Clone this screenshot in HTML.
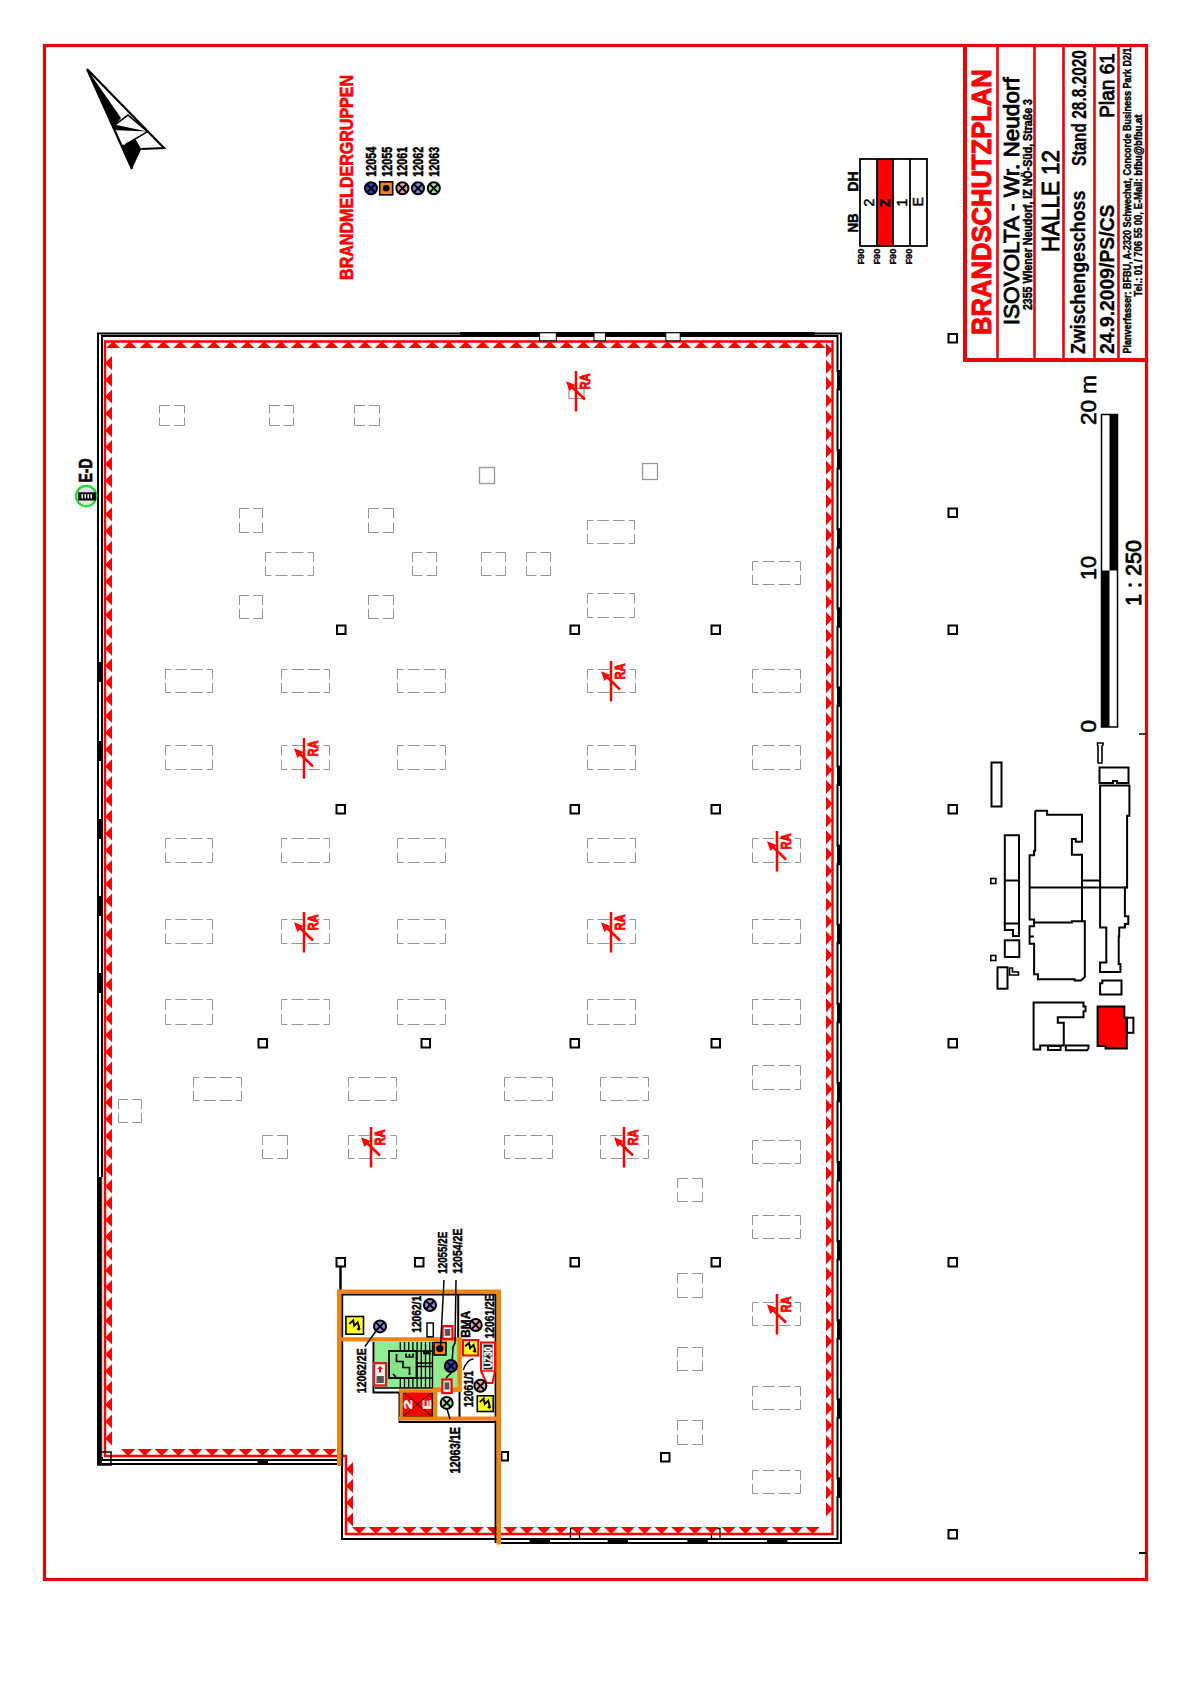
<!DOCTYPE html>
<html><head><meta charset="utf-8"><title>Brandschutzplan</title>
<style>html,body{margin:0;padding:0;background:#fff;}svg{display:block;font-family:"Liberation Sans",sans-serif;}</style>
</head><body>
<svg width="1191" height="1684" viewBox="0 0 1191 1684">
<rect x="44.5" y="45.5" width="1102" height="1534" fill="none" stroke="#e20808" stroke-width="3.2"/>
<line x1="1139" y1="1553" x2="1147" y2="1553" stroke="#000" stroke-width="2"/>
<line x1="1139" y1="734" x2="1147" y2="734" stroke="#000" stroke-width="1.5"/>
<g fill="none" stroke="#e20808">
<line x1="965" y1="45" x2="965" y2="362" stroke-width="4"/>
<line x1="963" y1="360" x2="1148" y2="360" stroke-width="4"/>
<line x1="997.5" y1="45" x2="997.5" y2="360" stroke-width="2.6"/>
<line x1="1034.5" y1="45" x2="1034.5" y2="360" stroke-width="2.6"/>
<line x1="1063.5" y1="45" x2="1063.5" y2="360" stroke-width="2.6"/>
<line x1="1094.5" y1="45" x2="1094.5" y2="360" stroke-width="2.6"/>
<line x1="1118.5" y1="45" x2="1118.5" y2="360" stroke-width="2.6"/>
</g>
<text transform="translate(990.5,335.0) rotate(-90)" font-size="28.21" font-weight="bold" fill="#ff0000" stroke="#ff0000" stroke-width="0.99" textLength="265.8" lengthAdjust="spacingAndGlyphs">BRANDSCHUTZPLAN</text>
<text transform="translate(1019.2,325.3) rotate(-90)" font-size="22.91" font-weight="normal" fill="#000" stroke="#000" stroke-width="0.90" textLength="248.0" lengthAdjust="spacingAndGlyphs">ISOVOLTA - Wr. Neudorf</text>
<text transform="translate(1032.2,310.1) rotate(-90)" font-size="12.01" font-weight="bold" fill="#000" stroke="#000" stroke-width="0.50" textLength="211.1" lengthAdjust="spacingAndGlyphs">2355 Wiener Neudorf, IZ NÖ-Süd, Straße 3</text>
<text transform="translate(1059.0,252.1) rotate(-90)" font-size="23.46" font-weight="normal" fill="#000" stroke="#000" stroke-width="0.90" textLength="102.1" lengthAdjust="spacingAndGlyphs">HALLE 12</text>
<text transform="translate(1084.8,353.9) rotate(-90)" font-size="19.97" font-weight="bold" fill="#000" stroke="#000" stroke-width="0.30" textLength="163.3" lengthAdjust="spacingAndGlyphs">Zwischengeschoss</text>
<text transform="translate(1085.5,165.9) rotate(-90)" font-size="20.25" font-weight="bold" fill="#000" stroke="#000" stroke-width="0.30" textLength="115.8" lengthAdjust="spacingAndGlyphs">Stand 28.8.2020</text>
<text transform="translate(1114.1,353.9) rotate(-90)" font-size="20.95" font-weight="bold" fill="#000" stroke="#000" stroke-width="0.30" textLength="149.3" lengthAdjust="spacingAndGlyphs">24.9.2009/PS/CS</text>
<text transform="translate(1114.1,117.7) rotate(-90)" font-size="20.95" font-weight="normal" fill="#000" stroke="#000" stroke-width="0.90" textLength="64.5" lengthAdjust="spacingAndGlyphs">Plan 61</text>
<text transform="translate(1131.0,353.5) rotate(-90)" font-size="10.61" font-weight="bold" fill="#000" stroke="#000" stroke-width="0.45" textLength="306.0" lengthAdjust="spacingAndGlyphs">Planverfasser: BFBU, A-2320 Schwechat, Concorde Business Park D2/1</text>
<text transform="translate(1141.6,296.5) rotate(-90)" font-size="10.61" font-weight="bold" fill="#000" stroke="#000" stroke-width="0.45" textLength="182.0" lengthAdjust="spacingAndGlyphs">Tel.: 01 / 706 55 00, E-Mail: bfbu@bfbu.at</text>
<path d="M87,69 L121,118 L115.3,124.7 L112.1,124.7 Z M112.3,125 L115.3,124.7 L147.2,131.6 L117.5,130.2 L114,129.5 Z M121.1,144.8 L125.3,144.8 L135.4,139.3 L141.3,149 L132,169 Z" fill="#000"/>
<path d="M87,69 L164,148 L141.3,149 M87,69 L132,169" fill="none" stroke="#000" stroke-width="2.2"/>
<path d="M115.3,124.7 L127.9,115 L147.2,131.4 M125.3,144.8 L148,131.4" fill="none" stroke="#000" stroke-width="1.6"/>
<text transform="translate(353.2,279.9) rotate(-90)" font-size="18.16" font-weight="bold" fill="#ff0000" stroke="#ff0000" stroke-width="0.64" textLength="205.0" lengthAdjust="spacingAndGlyphs">BRANDMELDERGRUPPEN</text>
<text transform="translate(375.7,176.7) rotate(-90)" font-size="14.66" font-weight="bold" fill="#000" stroke="#000" stroke-width="0.51" textLength="29.9" lengthAdjust="spacingAndGlyphs">12054</text>
<text transform="translate(391.5,176.7) rotate(-90)" font-size="14.66" font-weight="bold" fill="#000" stroke="#000" stroke-width="0.51" textLength="29.9" lengthAdjust="spacingAndGlyphs">12055</text>
<text transform="translate(407.2,176.7) rotate(-90)" font-size="14.66" font-weight="bold" fill="#000" stroke="#000" stroke-width="0.51" textLength="29.9" lengthAdjust="spacingAndGlyphs">12061</text>
<text transform="translate(423.0,176.7) rotate(-90)" font-size="14.66" font-weight="bold" fill="#000" stroke="#000" stroke-width="0.51" textLength="29.9" lengthAdjust="spacingAndGlyphs">12062</text>
<text transform="translate(438.5,176.7) rotate(-90)" font-size="14.66" font-weight="bold" fill="#000" stroke="#000" stroke-width="0.51" textLength="29.9" lengthAdjust="spacingAndGlyphs">12063</text>
<circle cx="371" cy="188.3" r="6.0" fill="#2848c8" stroke="#000" stroke-width="2.0"/>
<path d="M366.7,184.0 L375.3,192.6 M366.7,192.6 L375.3,184.0" stroke="#000" stroke-width="2"/>
<rect x="379.7" y="181.8" width="13" height="13" fill="#ee8412" stroke="#000" stroke-width="1.6"/><circle cx="386.2" cy="188.3" r="3.3" fill="#000"/>
<circle cx="402.4" cy="188.3" r="6.0" fill="#e8a0b0" stroke="#000" stroke-width="2.0"/>
<path d="M398.1,184.0 L406.7,192.6 M398.1,192.6 L406.7,184.0" stroke="#000" stroke-width="2"/>
<circle cx="418" cy="188.3" r="6.0" fill="#8888e8" stroke="#000" stroke-width="2.0"/>
<path d="M413.7,184.0 L422.3,192.6 M413.7,192.6 L422.3,184.0" stroke="#000" stroke-width="2"/>
<circle cx="433.8" cy="188.3" r="6.0" fill="#a0e8a0" stroke="#000" stroke-width="2.0"/>
<path d="M429.5,184.0 L438.1,192.6 M429.5,192.6 L438.1,184.0" stroke="#000" stroke-width="2"/>
<rect x="877" y="159" width="16" height="87" fill="#ff0000"/>
<rect x="860" y="159" width="67" height="87" fill="none" stroke="#000" stroke-width="1.8"/>
<line x1="877" y1="159" x2="877" y2="246" stroke="#000" stroke-width="1.8"/>
<line x1="893" y1="159" x2="893" y2="246" stroke="#000" stroke-width="1.8"/>
<line x1="910" y1="159" x2="910" y2="246" stroke="#000" stroke-width="1.8"/>
<text transform="translate(874,202.5) rotate(-90)" font-size="14" font-weight="normal" text-anchor="middle" stroke="#000" stroke-width="0.5">2</text>
<text transform="translate(890.4,202.9) rotate(-90)" font-size="14" font-weight="bold" text-anchor="middle" stroke="#000" stroke-width="0.5">Z</text>
<text transform="translate(907.2,202.7) rotate(-90)" font-size="14" font-weight="normal" text-anchor="middle" stroke="#000" stroke-width="0.5">1</text>
<text transform="translate(923.1,201.9) rotate(-90)" font-size="14" font-weight="normal" text-anchor="middle" stroke="#000" stroke-width="0.5">E</text>
<text transform="translate(858.0,191.8) rotate(-90)" font-size="14.66" font-weight="bold" fill="#000" stroke="#000" stroke-width="0.51" textLength="20.6" lengthAdjust="spacingAndGlyphs">DH</text>
<text transform="translate(858.0,232.6) rotate(-90)" font-size="14.66" font-weight="bold" fill="#000" stroke="#000" stroke-width="0.51" textLength="19.4" lengthAdjust="spacingAndGlyphs">NB</text>
<text transform="translate(864.2,264.6) rotate(-90)" font-size="9.08" font-weight="bold" fill="#000" stroke="#000" stroke-width="0.32" textLength="16.0" lengthAdjust="spacingAndGlyphs">F90</text>
<text transform="translate(880.2,264.6) rotate(-90)" font-size="9.08" font-weight="bold" fill="#000" stroke="#000" stroke-width="0.32" textLength="16.0" lengthAdjust="spacingAndGlyphs">F90</text>
<text transform="translate(896.2,264.6) rotate(-90)" font-size="9.08" font-weight="bold" fill="#000" stroke="#000" stroke-width="0.32" textLength="16.0" lengthAdjust="spacingAndGlyphs">F90</text>
<text transform="translate(912.2,264.6) rotate(-90)" font-size="9.08" font-weight="bold" fill="#000" stroke="#000" stroke-width="0.32" textLength="16.0" lengthAdjust="spacingAndGlyphs">F90</text>
<rect x="1101.5" y="414.5" width="16" height="312.5" fill="#fff" stroke="#000" stroke-width="1.5"/>
<rect x="1109.5" y="414.5" width="8" height="156" fill="#000"/>
<rect x="1101.5" y="570.5" width="8" height="156.5" fill="#000"/>
<text transform="translate(1095.9,425.0) rotate(-90)" font-size="22.07" font-weight="normal" fill="#000" stroke="#000" stroke-width="0.60" textLength="50.1" lengthAdjust="spacingAndGlyphs">20 m</text>
<text transform="translate(1095.9,580.0) rotate(-90)" font-size="22.07" font-weight="normal" fill="#000" stroke="#000" stroke-width="0.60" textLength="24.2" lengthAdjust="spacingAndGlyphs">10</text>
<text transform="translate(1095.9,732.7) rotate(-90)" font-size="22.07" font-weight="normal" fill="#000" stroke="#000" stroke-width="0.50" textLength="12.8" lengthAdjust="spacingAndGlyphs">0</text>
<text transform="translate(1140.5,606.1) rotate(-90)" font-size="22.49" font-weight="normal" fill="#000" stroke="#000" stroke-width="0.90" textLength="66.1" lengthAdjust="spacingAndGlyphs">1 : 250</text>
<g fill="none" stroke="#000" stroke-width="2">
<path d="M1097.5,743 L1103,743 L1103,745 L1102,746 L1102,763 L1098,763 L1098,746 L1097.5,745 Z" stroke-width="1.6"/>
<path d="M1099.5,767.5 L1128.5,767.5 L1128.5,783 L1117,783 L1117,781 L1113,781 L1113,783 L1099.5,783 Z"/>
<path d="M1100.1,785.5 H1129.4 V815.8 H1127.1 V887.4 H1124.9 V916.2 H1128.3 V924 H1124.9 V927.4 H1119.2 V936.5 H1118.7 V964.1 H1120.4 V972 H1100.1 V962.4 H1106.3 V927.4 H1100.1 Z"/>
<path d="M1102.3,980.4 H1121.5 V994.5 H1100.1 V983.3 H1102.3 Z"/>
<path d="M1029.6,887.4 H1127.1 M1082,880.6 H1100.1"/>
<path d="M1035.2,810.7 H1047.1 V814.7 H1082 V841.7 H1075.8 V838.9 H1071.9 V854.7 H1082 V921.2 M1035.2,810.7 V850.7 H1034.1 V855.3 H1029.6 V919.5 H1034.1 V922.4"/>
<path d="M1034.1,922.4 H1071.9 V921.2 H1084.8 V977.1 L1080.9,980.4 H1074.7 V979.3 H1038 V974.2 H1034.1 V943.8 H1029.6 V926.3 H1034.1 Z M1030,936.5 H1034"/>
<path d="M1004.8,835.3 L1019,835.3 L1019,936 L1013,936 L1013,930 L1004.8,930 Z M1004.8,880.5 L1019,880.5 M1004.8,923.5 L1019,923.5"/>
<rect x="991.5" y="762.5" width="10" height="44"/>
<rect x="990.8" y="878.5" width="5" height="5" stroke-width="1.6"/>
<rect x="990.8" y="955.5" width="5" height="5" stroke-width="1.6"/>
<rect x="1004.8" y="940.3" width="14.5" height="16.7"/>
<rect x="997.5" y="967.3" width="10" height="21.4"/>
<path d="M1009.5,968 L1012.5,968 L1012.5,972 L1018.5,972 L1018.5,975 L1009.5,975 Z" stroke-width="1.6"/>
<path d="M1033.6,1002.6 H1083.5 V1006.6 H1085.5 V1011.2 H1083.5 V1017.2 H1057.8 V1022.7 H1063.8 V1045.4 H1040.2 V1049.4 H1033.6 Z"/>
<path d="M1065.8,1045.4 H1088.5 V1048.5 L1087,1050.3 H1065.8 Z M1048,1046 H1060.6 V1050 H1048 Z"/>
<path d="M1097.6,1006.6 H1124.3 V1017.7 H1126.8 V1048.4 H1105.6 V1045.9 H1097.6 Z" fill="#ff0000"/>
<rect x="1126.8" y="1017.7" width="6.6" height="15.1"/>
</g>
<g fill="none" stroke="#000" stroke-width="2">
<path d="M341,1464 L98,1464 L98,333.5 L841,333.5 L841,1543 L498,1543"/>
<path d="M341,1460 L102,1460 L102,336 L837.5,336 L837.5,1539 L341,1539 M342,1539 L342,1452"/>
</g>
<g fill="none" stroke="#ff0000" stroke-width="2.4">
<path d="M105,1456 L105,341.5 L832.5,341.5 L832.5,1534 L346,1534 L346,1456 Z"/>
</g>
<rect x="837" y="370.0" width="5" height="20.5" fill="#000"/><rect x="834.5" y="372.0" width="2.5" height="16.5" fill="#fff"/><rect x="837" y="449.1" width="5" height="20.5" fill="#000"/><rect x="834.5" y="451.1" width="2.5" height="16.5" fill="#fff"/><rect x="837" y="528.2" width="5" height="20.5" fill="#000"/><rect x="834.5" y="530.2" width="2.5" height="16.5" fill="#fff"/><rect x="837" y="607.3" width="5" height="20.5" fill="#000"/><rect x="834.5" y="609.3" width="2.5" height="16.5" fill="#fff"/><rect x="837" y="686.4" width="5" height="20.5" fill="#000"/><rect x="834.5" y="688.4" width="2.5" height="16.5" fill="#fff"/><rect x="837" y="765.5" width="5" height="20.5" fill="#000"/><rect x="834.5" y="767.5" width="2.5" height="16.5" fill="#fff"/><rect x="837" y="844.6" width="5" height="20.5" fill="#000"/><rect x="834.5" y="846.6" width="2.5" height="16.5" fill="#fff"/><rect x="837" y="923.7" width="5" height="20.5" fill="#000"/><rect x="834.5" y="925.7" width="2.5" height="16.5" fill="#fff"/><rect x="837" y="1002.8" width="5" height="20.5" fill="#000"/><rect x="834.5" y="1004.8" width="2.5" height="16.5" fill="#fff"/><rect x="837" y="1081.9" width="5" height="20.5" fill="#000"/><rect x="834.5" y="1083.9" width="2.5" height="16.5" fill="#fff"/><rect x="837" y="1161.0" width="5" height="20.5" fill="#000"/><rect x="834.5" y="1163.0" width="2.5" height="16.5" fill="#fff"/><rect x="837" y="1240.1" width="5" height="20.5" fill="#000"/><rect x="834.5" y="1242.1" width="2.5" height="16.5" fill="#fff"/><rect x="837" y="1319.2" width="5" height="20.5" fill="#000"/><rect x="834.5" y="1321.2" width="2.5" height="16.5" fill="#fff"/><rect x="837" y="1398.3" width="5" height="20.5" fill="#000"/><rect x="834.5" y="1400.3" width="2.5" height="16.5" fill="#fff"/><rect x="837" y="1477.4" width="5" height="20.5" fill="#000"/><rect x="834.5" y="1479.4" width="2.5" height="16.5" fill="#fff"/><rect x="97" y="662" width="6" height="20" fill="#000"/><rect x="97" y="741" width="6" height="20" fill="#000"/><rect x="97" y="819" width="6" height="20" fill="#000"/><rect x="97" y="896" width="6" height="20" fill="#000"/><rect x="97" y="973" width="6" height="20" fill="#000"/><rect x="529.5" y="1538" width="20.5" height="6" fill="#000"/><rect x="607.6" y="1538" width="20.5" height="6" fill="#000"/><rect x="687.4" y="1538" width="20.5" height="6" fill="#000"/><rect x="767" y="1538" width="20.5" height="6" fill="#000"/><rect x="257.5" y="1459" width="10.5" height="6" fill="#000"/><path d="M570.5,1538 V1528.5 H579.5 V1538 M711.5,1538 V1528.5 H720 V1538" fill="none" stroke="#000" stroke-width="1.3"/><rect x="460" y="332" width="355" height="3.5" fill="#000"/><rect x="539.6" y="332.8" width="16.7" height="8" fill="#fff" stroke="#000" stroke-width="1"/><rect x="594" y="332.8" width="11.4" height="8" fill="#fff" stroke="#000" stroke-width="1"/><rect x="665.8" y="332.8" width="14.4" height="8" fill="#fff" stroke="#000" stroke-width="1"/><rect x="97.8" y="1177" width="4" height="288" fill="#000"/><rect x="101.8" y="1177" width="1" height="280" fill="#fff"/><rect x="98" y="1452" width="13" height="13" fill="none" stroke="#000" stroke-width="1.5"/>
<path d="M106.0,348 L120.2,348 L113.1,341.5Z M122.8,348 L137.0,348 L129.9,341.5Z M139.6,348 L153.8,348 L146.7,341.5Z M156.4,348 L170.6,348 L163.5,341.5Z M173.2,348 L187.4,348 L180.3,341.5Z M190.0,348 L204.2,348 L197.1,341.5Z M206.8,348 L221.0,348 L213.9,341.5Z M223.6,348 L237.8,348 L230.7,341.5Z M240.4,348 L254.6,348 L247.5,341.5Z M257.2,348 L271.4,348 L264.3,341.5Z M274.0,348 L288.2,348 L281.1,341.5Z M290.8,348 L305.0,348 L297.9,341.5Z M307.6,348 L321.8,348 L314.7,341.5Z M324.4,348 L338.6,348 L331.5,341.5Z M341.2,348 L355.4,348 L348.3,341.5Z M358.0,348 L372.2,348 L365.1,341.5Z M374.8,348 L389.0,348 L381.9,341.5Z M391.6,348 L405.8,348 L398.7,341.5Z M408.4,348 L422.6,348 L415.5,341.5Z M425.2,348 L439.4,348 L432.3,341.5Z M442.0,348 L456.2,348 L449.1,341.5Z M458.8,348 L473.0,348 L465.9,341.5Z M475.6,348 L489.8,348 L482.7,341.5Z M492.4,348 L506.6,348 L499.5,341.5Z M509.2,348 L523.4,348 L516.3,341.5Z M526.0,348 L540.2,348 L533.1,341.5Z M542.8,348 L557.0,348 L549.9,341.5Z M559.6,348 L573.8,348 L566.7,341.5Z M576.4,348 L590.6,348 L583.5,341.5Z M593.2,348 L607.4,348 L600.3,341.5Z M610.0,348 L624.2,348 L617.1,341.5Z M626.8,348 L641.0,348 L633.9,341.5Z M643.6,348 L657.8,348 L650.7,341.5Z M660.4,348 L674.6,348 L667.5,341.5Z M677.2,348 L691.4,348 L684.3,341.5Z M694.0,348 L708.2,348 L701.1,341.5Z M710.8,348 L725.0,348 L717.9,341.5Z M727.6,348 L741.8,348 L734.7,341.5Z M744.4,348 L758.6,348 L751.5,341.5Z M761.2,348 L775.4,348 L768.3,341.5Z M778.0,348 L792.2,348 L785.1,341.5Z M794.8,348 L809.0,348 L801.9,341.5Z M811.6,348 L825.8,348 L818.7,341.5Z M112,356.0 L112,370.2 L105,363.1Z M112,372.8 L112,387.0 L105,379.9Z M112,389.6 L112,403.8 L105,396.7Z M112,406.4 L112,420.6 L105,413.5Z M112,423.2 L112,437.4 L105,430.3Z M112,440.0 L112,454.2 L105,447.1Z M112,456.8 L112,471.0 L105,463.9Z M112,473.6 L112,487.8 L105,480.7Z M112,490.4 L112,504.6 L105,497.5Z M112,507.2 L112,521.4 L105,514.3Z M112,524.0 L112,538.2 L105,531.1Z M112,540.8 L112,555.0 L105,547.9Z M112,557.6 L112,571.8 L105,564.7Z M112,574.4 L112,588.6 L105,581.5Z M112,591.2 L112,605.4 L105,598.3Z M112,608.0 L112,622.2 L105,615.1Z M112,624.8 L112,639.0 L105,631.9Z M112,641.6 L112,655.8 L105,648.7Z M112,658.4 L112,672.6 L105,665.5Z M112,675.2 L112,689.4 L105,682.3Z M112,692.0 L112,706.2 L105,699.1Z M112,708.8 L112,723.0 L105,715.9Z M112,725.6 L112,739.8 L105,732.7Z M112,742.4 L112,756.6 L105,749.5Z M112,759.2 L112,773.4 L105,766.3Z M112,776.0 L112,790.2 L105,783.1Z M112,792.8 L112,807.0 L105,799.9Z M112,809.6 L112,823.8 L105,816.7Z M112,826.4 L112,840.6 L105,833.5Z M112,843.2 L112,857.4 L105,850.3Z M112,860.0 L112,874.2 L105,867.1Z M112,876.8 L112,891.0 L105,883.9Z M112,893.6 L112,907.8 L105,900.7Z M112,910.4 L112,924.6 L105,917.5Z M112,927.2 L112,941.4 L105,934.3Z M112,944.0 L112,958.2 L105,951.1Z M112,960.8 L112,975.0 L105,967.9Z M112,977.6 L112,991.8 L105,984.7Z M112,994.4 L112,1008.6 L105,1001.5Z M112,1011.2 L112,1025.4 L105,1018.3Z M112,1028.0 L112,1042.2 L105,1035.1Z M112,1044.8 L112,1059.0 L105,1051.9Z M112,1061.6 L112,1075.8 L105,1068.7Z M112,1078.4 L112,1092.6 L105,1085.5Z M112,1095.2 L112,1109.4 L105,1102.3Z M112,1112.0 L112,1126.2 L105,1119.1Z M112,1128.8 L112,1143.0 L105,1135.9Z M112,1145.6 L112,1159.8 L105,1152.7Z M112,1162.4 L112,1176.6 L105,1169.5Z M112,1179.2 L112,1193.4 L105,1186.3Z M112,1196.0 L112,1210.2 L105,1203.1Z M112,1212.8 L112,1227.0 L105,1219.9Z M112,1229.6 L112,1243.8 L105,1236.7Z M112,1246.4 L112,1260.6 L105,1253.5Z M112,1263.2 L112,1277.4 L105,1270.3Z M112,1280.0 L112,1294.2 L105,1287.1Z M112,1296.8 L112,1311.0 L105,1303.9Z M112,1313.6 L112,1327.8 L105,1320.7Z M112,1330.4 L112,1344.6 L105,1337.5Z M112,1347.2 L112,1361.4 L105,1354.3Z M112,1364.0 L112,1378.2 L105,1371.1Z M112,1380.8 L112,1395.0 L105,1387.9Z M112,1397.6 L112,1411.8 L105,1404.7Z M112,1414.4 L112,1428.6 L105,1421.5Z M112,1431.2 L112,1445.4 L105,1438.3Z M826,343.0 L826,357.2 L832.5,350.1Z M826,359.8 L826,374.0 L832.5,366.9Z M826,376.6 L826,390.8 L832.5,383.7Z M826,393.4 L826,407.6 L832.5,400.5Z M826,410.2 L826,424.4 L832.5,417.3Z M826,427.0 L826,441.2 L832.5,434.1Z M826,443.8 L826,458.0 L832.5,450.9Z M826,460.6 L826,474.8 L832.5,467.7Z M826,477.4 L826,491.6 L832.5,484.5Z M826,494.2 L826,508.4 L832.5,501.3Z M826,511.0 L826,525.2 L832.5,518.1Z M826,527.8 L826,542.0 L832.5,534.9Z M826,544.6 L826,558.8 L832.5,551.7Z M826,561.4 L826,575.6 L832.5,568.5Z M826,578.2 L826,592.4 L832.5,585.3Z M826,595.0 L826,609.2 L832.5,602.1Z M826,611.8 L826,626.0 L832.5,618.9Z M826,628.6 L826,642.8 L832.5,635.7Z M826,645.4 L826,659.6 L832.5,652.5Z M826,662.2 L826,676.4 L832.5,669.3Z M826,679.0 L826,693.2 L832.5,686.1Z M826,695.8 L826,710.0 L832.5,702.9Z M826,712.6 L826,726.8 L832.5,719.7Z M826,729.4 L826,743.6 L832.5,736.5Z M826,746.2 L826,760.4 L832.5,753.3Z M826,763.0 L826,777.2 L832.5,770.1Z M826,779.8 L826,794.0 L832.5,786.9Z M826,796.6 L826,810.8 L832.5,803.7Z M826,813.4 L826,827.6 L832.5,820.5Z M826,830.2 L826,844.4 L832.5,837.3Z M826,847.0 L826,861.2 L832.5,854.1Z M826,863.8 L826,878.0 L832.5,870.9Z M826,880.6 L826,894.8 L832.5,887.7Z M826,897.4 L826,911.6 L832.5,904.5Z M826,914.2 L826,928.4 L832.5,921.3Z M826,931.0 L826,945.2 L832.5,938.1Z M826,947.8 L826,962.0 L832.5,954.9Z M826,964.6 L826,978.8 L832.5,971.7Z M826,981.4 L826,995.6 L832.5,988.5Z M826,998.2 L826,1012.4 L832.5,1005.3Z M826,1015.0 L826,1029.2 L832.5,1022.1Z M826,1031.8 L826,1046.0 L832.5,1038.9Z M826,1048.6 L826,1062.8 L832.5,1055.7Z M826,1065.4 L826,1079.6 L832.5,1072.5Z M826,1082.2 L826,1096.4 L832.5,1089.3Z M826,1099.0 L826,1113.2 L832.5,1106.1Z M826,1115.8 L826,1130.0 L832.5,1122.9Z M826,1132.6 L826,1146.8 L832.5,1139.7Z M826,1149.4 L826,1163.6 L832.5,1156.5Z M826,1166.2 L826,1180.4 L832.5,1173.3Z M826,1183.0 L826,1197.2 L832.5,1190.1Z M826,1199.8 L826,1214.0 L832.5,1206.9Z M826,1216.6 L826,1230.8 L832.5,1223.7Z M826,1233.4 L826,1247.6 L832.5,1240.5Z M826,1250.2 L826,1264.4 L832.5,1257.3Z M826,1267.0 L826,1281.2 L832.5,1274.1Z M826,1283.8 L826,1298.0 L832.5,1290.9Z M826,1300.6 L826,1314.8 L832.5,1307.7Z M826,1317.4 L826,1331.6 L832.5,1324.5Z M826,1334.2 L826,1348.4 L832.5,1341.3Z M826,1351.0 L826,1365.2 L832.5,1358.1Z M826,1367.8 L826,1382.0 L832.5,1374.9Z M826,1384.6 L826,1398.8 L832.5,1391.7Z M826,1401.4 L826,1415.6 L832.5,1408.5Z M826,1418.2 L826,1432.4 L832.5,1425.3Z M826,1435.0 L826,1449.2 L832.5,1442.1Z M826,1451.8 L826,1466.0 L832.5,1458.9Z M826,1468.6 L826,1482.8 L832.5,1475.7Z M826,1485.4 L826,1499.6 L832.5,1492.5Z M826,1502.2 L826,1516.4 L832.5,1509.3Z M121.0,1449 L135.2,1449 L128.1,1456Z M137.8,1449 L152.0,1449 L144.9,1456Z M154.6,1449 L168.8,1449 L161.7,1456Z M171.4,1449 L185.6,1449 L178.5,1456Z M188.2,1449 L202.4,1449 L195.3,1456Z M205.0,1449 L219.2,1449 L212.1,1456Z M221.8,1449 L236.0,1449 L228.9,1456Z M238.6,1449 L252.8,1449 L245.7,1456Z M255.4,1449 L269.6,1449 L262.5,1456Z M272.2,1449 L286.4,1449 L279.3,1456Z M289.0,1449 L303.2,1449 L296.1,1456Z M305.8,1449 L320.0,1449 L312.9,1456Z M322.6,1449 L336.8,1449 L329.7,1456Z M353,1462.0 L353,1476.2 L346,1469.1Z M353,1478.8 L353,1493.0 L346,1485.9Z M353,1495.6 L353,1509.8 L346,1502.7Z M353,1512.4 L353,1526.6 L346,1519.5Z M352.0,1527 L366.2,1527 L359.1,1534Z M368.8,1527 L383.0,1527 L375.9,1534Z M385.6,1527 L399.8,1527 L392.7,1534Z M402.4,1527 L416.6,1527 L409.5,1534Z M419.2,1527 L433.4,1527 L426.3,1534Z M436.0,1527 L450.2,1527 L443.1,1534Z M452.8,1527 L467.0,1527 L459.9,1534Z M469.6,1527 L483.8,1527 L476.7,1534Z M486.4,1527 L500.6,1527 L493.5,1534Z M503.2,1527 L517.4,1527 L510.3,1534Z M520.0,1527 L534.2,1527 L527.1,1534Z M536.8,1527 L551.0,1527 L543.9,1534Z M553.6,1527 L567.8,1527 L560.7,1534Z M570.4,1527 L584.6,1527 L577.5,1534Z M587.2,1527 L601.4,1527 L594.3,1534Z M604.0,1527 L618.2,1527 L611.1,1534Z M620.8,1527 L635.0,1527 L627.9,1534Z M637.6,1527 L651.8,1527 L644.7,1534Z M654.4,1527 L668.6,1527 L661.5,1534Z M671.2,1527 L685.4,1527 L678.3,1534Z M688.0,1527 L702.2,1527 L695.1,1534Z M704.8,1527 L719.0,1527 L711.9,1534Z M721.6,1527 L735.8,1527 L728.7,1534Z M738.4,1527 L752.6,1527 L745.5,1534Z M755.2,1527 L769.4,1527 L762.3,1534Z M772.0,1527 L786.2,1527 L779.1,1534Z M788.8,1527 L803.0,1527 L795.9,1534Z M805.6,1527 L819.8,1527 L812.7,1534Z" fill="#ff0000"/>
<path d="M159.5,405.5H170.0M174.0,405.5H184.5M159.5,425.5H170.0M174.0,425.5H184.5M159.5,405.5V413.5M159.5,417.5V425.5M184.5,405.5V413.5M184.5,417.5V425.5M269.5,405.5H279.5M283.5,405.5H293.5M269.5,425.5H279.5M283.5,425.5H293.5M269.5,405.5V413.5M269.5,417.5V425.5M293.5,405.5V413.5M293.5,417.5V425.5M354.5,405.5H365.0M369.0,405.5H379.5M354.5,425.5H365.0M369.0,425.5H379.5M354.5,405.5V413.5M354.5,417.5V425.5M379.5,405.5V413.5M379.5,417.5V425.5M239.5,508.5H249.0M253.0,508.5H262.5M239.5,532.5H249.0M253.0,532.5H262.5M239.5,508.5V518.5M239.5,522.5V532.5M262.5,508.5V518.5M262.5,522.5V532.5M368.5,508.5H379.0M383.0,508.5H393.5M368.5,532.5H379.0M383.0,532.5H393.5M368.5,508.5V518.5M368.5,522.5V532.5M393.5,508.5V518.5M393.5,522.5V532.5M265.5,552.5H271.5M275.5,552.5H287.5M291.5,552.5H303.5M307.5,552.5H313.5M265.5,575.5H271.5M275.5,575.5H287.5M291.5,575.5H303.5M307.5,575.5H313.5M265.5,552.5V562.0M265.5,566.0V575.5M313.5,552.5V562.0M313.5,566.0V575.5M239.5,595.5H249.0M253.0,595.5H262.5M239.5,618.5H249.0M253.0,618.5H262.5M239.5,595.5V605.0M239.5,609.0V618.5M262.5,595.5V605.0M262.5,609.0V618.5M368.5,595.5H379.0M383.0,595.5H393.5M368.5,618.5H379.0M383.0,618.5H393.5M368.5,595.5V605.0M368.5,609.0V618.5M393.5,595.5V605.0M393.5,609.0V618.5M587.5,520.5H593.3M597.3,520.5H609.0M613.0,520.5H624.7M628.7,520.5H634.5M587.5,543.5H593.3M597.3,543.5H609.0M613.0,543.5H624.7M628.7,543.5H634.5M587.5,520.5V530.0M587.5,534.0V543.5M634.5,520.5V530.0M634.5,534.0V543.5M412.5,552.5H422.5M426.5,552.5H436.5M412.5,575.5H422.5M426.5,575.5H436.5M412.5,552.5V562.0M412.5,566.0V575.5M436.5,552.5V562.0M436.5,566.0V575.5M481.5,552.5H491.5M495.5,552.5H505.5M481.5,575.5H491.5M495.5,575.5H505.5M481.5,552.5V562.0M481.5,566.0V575.5M505.5,552.5V562.0M505.5,566.0V575.5M526.5,552.5H536.5M540.5,552.5H550.5M526.5,575.5H536.5M540.5,575.5H550.5M526.5,552.5V562.0M526.5,566.0V575.5M550.5,552.5V562.0M550.5,566.0V575.5M587.5,593.5H593.3M597.3,593.5H609.0M613.0,593.5H624.7M628.7,593.5H634.5M587.5,617.5H593.3M597.3,617.5H609.0M613.0,617.5H624.7M628.7,617.5H634.5M587.5,593.5V603.5M587.5,607.5V617.5M634.5,593.5V603.5M634.5,607.5V617.5M752.5,561.5H758.5M762.5,561.5H774.5M778.5,561.5H790.5M794.5,561.5H800.5M752.5,584.5H758.5M762.5,584.5H774.5M778.5,584.5H790.5M794.5,584.5H800.5M752.5,561.5V571.0M752.5,575.0V584.5M800.5,561.5V571.0M800.5,575.0V584.5M193.5,1077.5H199.5M203.5,1077.5H215.5M219.5,1077.5H231.5M235.5,1077.5H241.5M193.5,1100.5H199.5M203.5,1100.5H215.5M219.5,1100.5H231.5M235.5,1100.5H241.5M193.5,1077.5V1087.0M193.5,1091.0V1100.5M241.5,1077.5V1087.0M241.5,1091.0V1100.5M348.5,1077.5H354.5M358.5,1077.5H370.5M374.5,1077.5H386.5M390.5,1077.5H396.5M348.5,1100.5H354.5M358.5,1100.5H370.5M374.5,1100.5H386.5M390.5,1100.5H396.5M348.5,1077.5V1087.0M348.5,1091.0V1100.5M396.5,1077.5V1087.0M396.5,1091.0V1100.5M504.5,1077.5H510.5M514.5,1077.5H526.5M530.5,1077.5H542.5M546.5,1077.5H552.5M504.5,1100.5H510.5M514.5,1100.5H526.5M530.5,1100.5H542.5M546.5,1100.5H552.5M504.5,1077.5V1087.0M504.5,1091.0V1100.5M552.5,1077.5V1087.0M552.5,1091.0V1100.5M600.5,1077.5H606.5M610.5,1077.5H622.5M626.5,1077.5H638.5M642.5,1077.5H648.5M600.5,1100.5H606.5M610.5,1100.5H622.5M626.5,1100.5H638.5M642.5,1100.5H648.5M600.5,1077.5V1087.0M600.5,1091.0V1100.5M648.5,1077.5V1087.0M648.5,1091.0V1100.5M752.5,1065.5H758.5M762.5,1065.5H774.5M778.5,1065.5H790.5M794.5,1065.5H800.5M752.5,1089.5H758.5M762.5,1089.5H774.5M778.5,1089.5H790.5M794.5,1089.5H800.5M752.5,1065.5V1075.5M752.5,1079.5V1089.5M800.5,1065.5V1075.5M800.5,1079.5V1089.5M118.5,1099.5H128.0M132.0,1099.5H141.5M118.5,1122.5H128.0M132.0,1122.5H141.5M118.5,1099.5V1109.0M118.5,1113.0V1122.5M141.5,1099.5V1109.0M141.5,1113.0V1122.5M262.5,1135.5H273.0M277.0,1135.5H287.5M262.5,1158.5H273.0M277.0,1158.5H287.5M262.5,1135.5V1145.0M262.5,1149.0V1158.5M287.5,1135.5V1145.0M287.5,1149.0V1158.5M348.5,1135.5H354.5M358.5,1135.5H370.5M374.5,1135.5H386.5M390.5,1135.5H396.5M348.5,1158.5H354.5M358.5,1158.5H370.5M374.5,1158.5H386.5M390.5,1158.5H396.5M348.5,1135.5V1145.0M348.5,1149.0V1158.5M396.5,1135.5V1145.0M396.5,1149.0V1158.5M504.5,1135.5H510.5M514.5,1135.5H526.5M530.5,1135.5H542.5M546.5,1135.5H552.5M504.5,1158.5H510.5M514.5,1158.5H526.5M530.5,1158.5H542.5M546.5,1158.5H552.5M504.5,1135.5V1145.0M504.5,1149.0V1158.5M552.5,1135.5V1145.0M552.5,1149.0V1158.5M600.5,1135.5H606.5M610.5,1135.5H622.5M626.5,1135.5H638.5M642.5,1135.5H648.5M600.5,1158.5H606.5M610.5,1158.5H622.5M626.5,1158.5H638.5M642.5,1158.5H648.5M600.5,1135.5V1145.0M600.5,1149.0V1158.5M648.5,1135.5V1145.0M648.5,1149.0V1158.5M752.5,1140.5H758.5M762.5,1140.5H774.5M778.5,1140.5H790.5M794.5,1140.5H800.5M752.5,1163.5H758.5M762.5,1163.5H774.5M778.5,1163.5H790.5M794.5,1163.5H800.5M752.5,1140.5V1150.0M752.5,1154.0V1163.5M800.5,1140.5V1150.0M800.5,1154.0V1163.5M677.5,1178.5H688.0M692.0,1178.5H702.5M677.5,1201.5H688.0M692.0,1201.5H702.5M677.5,1178.5V1188.0M677.5,1192.0V1201.5M702.5,1178.5V1188.0M702.5,1192.0V1201.5M752.5,1215.5H758.5M762.5,1215.5H774.5M778.5,1215.5H790.5M794.5,1215.5H800.5M752.5,1238.5H758.5M762.5,1238.5H774.5M778.5,1238.5H790.5M794.5,1238.5H800.5M752.5,1215.5V1225.0M752.5,1229.0V1238.5M800.5,1215.5V1225.0M800.5,1229.0V1238.5M677.5,1273.5H688.0M692.0,1273.5H702.5M677.5,1297.5H688.0M692.0,1297.5H702.5M677.5,1273.5V1283.5M677.5,1287.5V1297.5M702.5,1273.5V1283.5M702.5,1287.5V1297.5M752.5,1302.5H758.5M762.5,1302.5H774.5M778.5,1302.5H790.5M794.5,1302.5H800.5M752.5,1325.5H758.5M762.5,1325.5H774.5M778.5,1325.5H790.5M794.5,1325.5H800.5M752.5,1302.5V1312.0M752.5,1316.0V1325.5M800.5,1302.5V1312.0M800.5,1316.0V1325.5M677.5,1347.5H688.0M692.0,1347.5H702.5M677.5,1370.5H688.0M692.0,1370.5H702.5M677.5,1347.5V1357.0M677.5,1361.0V1370.5M702.5,1347.5V1357.0M702.5,1361.0V1370.5M752.5,1386.5H758.5M762.5,1386.5H774.5M778.5,1386.5H790.5M794.5,1386.5H800.5M752.5,1409.5H758.5M762.5,1409.5H774.5M778.5,1409.5H790.5M794.5,1409.5H800.5M752.5,1386.5V1396.0M752.5,1400.0V1409.5M800.5,1386.5V1396.0M800.5,1400.0V1409.5M677.5,1420.5H688.0M692.0,1420.5H702.5M677.5,1444.5H688.0M692.0,1444.5H702.5M677.5,1420.5V1430.5M677.5,1434.5V1444.5M702.5,1420.5V1430.5M702.5,1434.5V1444.5M752.5,1470.5H758.5M762.5,1470.5H774.5M778.5,1470.5H790.5M794.5,1470.5H800.5M752.5,1493.5H758.5M762.5,1493.5H774.5M778.5,1493.5H790.5M794.5,1493.5H800.5M752.5,1470.5V1480.0M752.5,1484.0V1493.5M800.5,1470.5V1480.0M800.5,1484.0V1493.5M165.5,669.5H171.3M175.3,669.5H187.0M191.0,669.5H202.7M206.7,669.5H212.5M165.5,692.5H171.3M175.3,692.5H187.0M191.0,692.5H202.7M206.7,692.5H212.5M165.5,669.5V679.0M165.5,683.0V692.5M212.5,669.5V679.0M212.5,683.0V692.5M281.5,669.5H287.5M291.5,669.5H303.5M307.5,669.5H319.5M323.5,669.5H329.5M281.5,692.5H287.5M291.5,692.5H303.5M307.5,692.5H319.5M323.5,692.5H329.5M281.5,669.5V679.0M281.5,683.0V692.5M329.5,669.5V679.0M329.5,683.0V692.5M397.5,669.5H403.5M407.5,669.5H419.5M423.5,669.5H435.5M439.5,669.5H445.5M397.5,692.5H403.5M407.5,692.5H419.5M423.5,692.5H435.5M439.5,692.5H445.5M397.5,669.5V679.0M397.5,683.0V692.5M445.5,669.5V679.0M445.5,683.0V692.5M587.5,669.5H593.5M597.5,669.5H609.5M613.5,669.5H625.5M629.5,669.5H635.5M587.5,692.5H593.5M597.5,692.5H609.5M613.5,692.5H625.5M629.5,692.5H635.5M587.5,669.5V679.0M587.5,683.0V692.5M635.5,669.5V679.0M635.5,683.0V692.5M752.5,669.5H758.5M762.5,669.5H774.5M778.5,669.5H790.5M794.5,669.5H800.5M752.5,692.5H758.5M762.5,692.5H774.5M778.5,692.5H790.5M794.5,692.5H800.5M752.5,669.5V679.0M752.5,683.0V692.5M800.5,669.5V679.0M800.5,683.0V692.5M165.5,745.5H171.3M175.3,745.5H187.0M191.0,745.5H202.7M206.7,745.5H212.5M165.5,769.5H171.3M175.3,769.5H187.0M191.0,769.5H202.7M206.7,769.5H212.5M165.5,745.5V755.5M165.5,759.5V769.5M212.5,745.5V755.5M212.5,759.5V769.5M281.5,745.5H287.5M291.5,745.5H303.5M307.5,745.5H319.5M323.5,745.5H329.5M281.5,769.5H287.5M291.5,769.5H303.5M307.5,769.5H319.5M323.5,769.5H329.5M281.5,745.5V755.5M281.5,759.5V769.5M329.5,745.5V755.5M329.5,759.5V769.5M397.5,745.5H403.5M407.5,745.5H419.5M423.5,745.5H435.5M439.5,745.5H445.5M397.5,769.5H403.5M407.5,769.5H419.5M423.5,769.5H435.5M439.5,769.5H445.5M397.5,745.5V755.5M397.5,759.5V769.5M445.5,745.5V755.5M445.5,759.5V769.5M587.5,745.5H593.5M597.5,745.5H609.5M613.5,745.5H625.5M629.5,745.5H635.5M587.5,769.5H593.5M597.5,769.5H609.5M613.5,769.5H625.5M629.5,769.5H635.5M587.5,745.5V755.5M587.5,759.5V769.5M635.5,745.5V755.5M635.5,759.5V769.5M752.5,745.5H758.5M762.5,745.5H774.5M778.5,745.5H790.5M794.5,745.5H800.5M752.5,769.5H758.5M762.5,769.5H774.5M778.5,769.5H790.5M794.5,769.5H800.5M752.5,745.5V755.5M752.5,759.5V769.5M800.5,745.5V755.5M800.5,759.5V769.5M165.5,838.5H171.3M175.3,838.5H187.0M191.0,838.5H202.7M206.7,838.5H212.5M165.5,862.5H171.3M175.3,862.5H187.0M191.0,862.5H202.7M206.7,862.5H212.5M165.5,838.5V848.5M165.5,852.5V862.5M212.5,838.5V848.5M212.5,852.5V862.5M281.5,838.5H287.5M291.5,838.5H303.5M307.5,838.5H319.5M323.5,838.5H329.5M281.5,862.5H287.5M291.5,862.5H303.5M307.5,862.5H319.5M323.5,862.5H329.5M281.5,838.5V848.5M281.5,852.5V862.5M329.5,838.5V848.5M329.5,852.5V862.5M397.5,838.5H403.5M407.5,838.5H419.5M423.5,838.5H435.5M439.5,838.5H445.5M397.5,862.5H403.5M407.5,862.5H419.5M423.5,862.5H435.5M439.5,862.5H445.5M397.5,838.5V848.5M397.5,852.5V862.5M445.5,838.5V848.5M445.5,852.5V862.5M587.5,838.5H593.5M597.5,838.5H609.5M613.5,838.5H625.5M629.5,838.5H635.5M587.5,862.5H593.5M597.5,862.5H609.5M613.5,862.5H625.5M629.5,862.5H635.5M587.5,838.5V848.5M587.5,852.5V862.5M635.5,838.5V848.5M635.5,852.5V862.5M752.5,838.5H758.5M762.5,838.5H774.5M778.5,838.5H790.5M794.5,838.5H800.5M752.5,862.5H758.5M762.5,862.5H774.5M778.5,862.5H790.5M794.5,862.5H800.5M752.5,838.5V848.5M752.5,852.5V862.5M800.5,838.5V848.5M800.5,852.5V862.5M165.5,919.5H171.3M175.3,919.5H187.0M191.0,919.5H202.7M206.7,919.5H212.5M165.5,943.5H171.3M175.3,943.5H187.0M191.0,943.5H202.7M206.7,943.5H212.5M165.5,919.5V929.5M165.5,933.5V943.5M212.5,919.5V929.5M212.5,933.5V943.5M281.5,919.5H287.5M291.5,919.5H303.5M307.5,919.5H319.5M323.5,919.5H329.5M281.5,943.5H287.5M291.5,943.5H303.5M307.5,943.5H319.5M323.5,943.5H329.5M281.5,919.5V929.5M281.5,933.5V943.5M329.5,919.5V929.5M329.5,933.5V943.5M397.5,919.5H403.5M407.5,919.5H419.5M423.5,919.5H435.5M439.5,919.5H445.5M397.5,943.5H403.5M407.5,943.5H419.5M423.5,943.5H435.5M439.5,943.5H445.5M397.5,919.5V929.5M397.5,933.5V943.5M445.5,919.5V929.5M445.5,933.5V943.5M587.5,919.5H593.5M597.5,919.5H609.5M613.5,919.5H625.5M629.5,919.5H635.5M587.5,943.5H593.5M597.5,943.5H609.5M613.5,943.5H625.5M629.5,943.5H635.5M587.5,919.5V929.5M587.5,933.5V943.5M635.5,919.5V929.5M635.5,933.5V943.5M752.5,919.5H758.5M762.5,919.5H774.5M778.5,919.5H790.5M794.5,919.5H800.5M752.5,943.5H758.5M762.5,943.5H774.5M778.5,943.5H790.5M794.5,943.5H800.5M752.5,919.5V929.5M752.5,933.5V943.5M800.5,919.5V929.5M800.5,933.5V943.5M165.5,999.5H171.3M175.3,999.5H187.0M191.0,999.5H202.7M206.7,999.5H212.5M165.5,1024.5H171.3M175.3,1024.5H187.0M191.0,1024.5H202.7M206.7,1024.5H212.5M165.5,999.5V1010.0M165.5,1014.0V1024.5M212.5,999.5V1010.0M212.5,1014.0V1024.5M281.5,999.5H287.5M291.5,999.5H303.5M307.5,999.5H319.5M323.5,999.5H329.5M281.5,1024.5H287.5M291.5,1024.5H303.5M307.5,1024.5H319.5M323.5,1024.5H329.5M281.5,999.5V1010.0M281.5,1014.0V1024.5M329.5,999.5V1010.0M329.5,1014.0V1024.5M397.5,999.5H403.5M407.5,999.5H419.5M423.5,999.5H435.5M439.5,999.5H445.5M397.5,1024.5H403.5M407.5,1024.5H419.5M423.5,1024.5H435.5M439.5,1024.5H445.5M397.5,999.5V1010.0M397.5,1014.0V1024.5M445.5,999.5V1010.0M445.5,1014.0V1024.5M587.5,999.5H593.5M597.5,999.5H609.5M613.5,999.5H625.5M629.5,999.5H635.5M587.5,1024.5H593.5M597.5,1024.5H609.5M613.5,1024.5H625.5M629.5,1024.5H635.5M587.5,999.5V1010.0M587.5,1014.0V1024.5M635.5,999.5V1010.0M635.5,1014.0V1024.5M752.5,999.5H758.5M762.5,999.5H774.5M778.5,999.5H790.5M794.5,999.5H800.5M752.5,1024.5H758.5M762.5,1024.5H774.5M778.5,1024.5H790.5M794.5,1024.5H800.5M752.5,999.5V1010.0M752.5,1014.0V1024.5M800.5,999.5V1010.0M800.5,1014.0V1024.5" fill="none" stroke="#949494" stroke-width="1"/>
<g fill="none" stroke="#999" stroke-width="1.3">
<rect x="479.5" y="467.5" width="15.0" height="16.0"/>
<rect x="642.5" y="463.5" width="15.0" height="16.0"/>
<rect x="569" y="388.5" width="15" height="10.0"/>
</g>
<g fill="#fff" stroke="#000" stroke-width="2">
<rect x="337" y="625.5" width="8.5" height="8.5"/>
<rect x="570.5" y="625.5" width="8.5" height="8.5"/>
<rect x="711.5" y="625.5" width="8.5" height="8.5"/>
<rect x="948.5" y="625.5" width="8.5" height="8.5"/>
<rect x="948.5" y="334" width="8.5" height="8.5"/>
<rect x="948.5" y="508.5" width="8.5" height="8.5"/>
<rect x="336.5" y="805" width="8.5" height="8.5"/>
<rect x="570.5" y="805" width="8.5" height="8.5"/>
<rect x="711.5" y="805" width="8.5" height="8.5"/>
<rect x="948.5" y="805" width="8.5" height="8.5"/>
<rect x="258.5" y="1039" width="8.5" height="8.5"/>
<rect x="421.5" y="1039" width="8.5" height="8.5"/>
<rect x="570.5" y="1039" width="8.5" height="8.5"/>
<rect x="711.5" y="1039" width="8.5" height="8.5"/>
<rect x="948.5" y="1039" width="8.5" height="8.5"/>
<rect x="336.5" y="1258" width="8.5" height="8.5"/>
<rect x="415" y="1258" width="8.5" height="8.5"/>
<rect x="570.5" y="1258" width="8.5" height="8.5"/>
<rect x="711.5" y="1258" width="8.5" height="8.5"/>
<rect x="948.5" y="1258" width="8.5" height="8.5"/>
<rect x="661" y="1453" width="8.5" height="8.5"/>
<rect x="948.5" y="1530" width="8.5" height="8.5"/>
<rect x="501.5" y="1452" width="6.5" height="8.5"/>
</g>
<line x1="340.5" y1="1267" x2="340.5" y2="1290" stroke="#000" stroke-width="2.5"/>
<line x1="576" y1="371" x2="576" y2="411.5" stroke="#ff0000" stroke-width="2.5"/>
<line x1="585" y1="399.5" x2="571" y2="386" stroke="#ff0000" stroke-width="2.5"/>
<path d="M566,381.3 L569.4,391 L575.5,385 Z" fill="#ff0000"/>
<text transform="translate(589.9,389.6) rotate(-90)" font-size="14.94" font-weight="bold" fill="#ff0000" stroke="#ff0000" stroke-width="0.90" textLength="16.1" lengthAdjust="spacingAndGlyphs">RA</text>
<line x1="304" y1="738" x2="304" y2="778.5" stroke="#ff0000" stroke-width="2.5"/>
<line x1="313" y1="766.5" x2="299" y2="753" stroke="#ff0000" stroke-width="2.5"/>
<path d="M294,748.3 L297.4,758 L303.5,752 Z" fill="#ff0000"/>
<text transform="translate(317.9,756.6) rotate(-90)" font-size="14.94" font-weight="bold" fill="#ff0000" stroke="#ff0000" stroke-width="0.90" textLength="16.1" lengthAdjust="spacingAndGlyphs">RA</text>
<line x1="304" y1="912" x2="304" y2="952.5" stroke="#ff0000" stroke-width="2.5"/>
<line x1="313" y1="940.5" x2="299" y2="927" stroke="#ff0000" stroke-width="2.5"/>
<path d="M294,922.3 L297.4,932 L303.5,926 Z" fill="#ff0000"/>
<text transform="translate(317.9,930.6) rotate(-90)" font-size="14.94" font-weight="bold" fill="#ff0000" stroke="#ff0000" stroke-width="0.90" textLength="16.1" lengthAdjust="spacingAndGlyphs">RA</text>
<line x1="611" y1="661" x2="611" y2="701.5" stroke="#ff0000" stroke-width="2.5"/>
<line x1="620" y1="689.5" x2="606" y2="676" stroke="#ff0000" stroke-width="2.5"/>
<path d="M601,671.3 L604.4,681 L610.5,675 Z" fill="#ff0000"/>
<text transform="translate(624.9,679.6) rotate(-90)" font-size="14.94" font-weight="bold" fill="#ff0000" stroke="#ff0000" stroke-width="0.90" textLength="16.1" lengthAdjust="spacingAndGlyphs">RA</text>
<line x1="611" y1="912" x2="611" y2="952.5" stroke="#ff0000" stroke-width="2.5"/>
<line x1="620" y1="940.5" x2="606" y2="927" stroke="#ff0000" stroke-width="2.5"/>
<path d="M601,922.3 L604.4,932 L610.5,926 Z" fill="#ff0000"/>
<text transform="translate(624.9,930.6) rotate(-90)" font-size="14.94" font-weight="bold" fill="#ff0000" stroke="#ff0000" stroke-width="0.90" textLength="16.1" lengthAdjust="spacingAndGlyphs">RA</text>
<line x1="777" y1="831" x2="777" y2="871.5" stroke="#ff0000" stroke-width="2.5"/>
<line x1="786" y1="859.5" x2="772" y2="846" stroke="#ff0000" stroke-width="2.5"/>
<path d="M767,841.3 L770.4,851 L776.5,845 Z" fill="#ff0000"/>
<text transform="translate(790.9,849.6) rotate(-90)" font-size="14.94" font-weight="bold" fill="#ff0000" stroke="#ff0000" stroke-width="0.90" textLength="16.1" lengthAdjust="spacingAndGlyphs">RA</text>
<line x1="371" y1="1127" x2="371" y2="1167.5" stroke="#ff0000" stroke-width="2.5"/>
<line x1="380" y1="1155.5" x2="366" y2="1142" stroke="#ff0000" stroke-width="2.5"/>
<path d="M361,1137.3 L364.4,1147 L370.5,1141 Z" fill="#ff0000"/>
<text transform="translate(384.9,1145.6) rotate(-90)" font-size="14.94" font-weight="bold" fill="#ff0000" stroke="#ff0000" stroke-width="0.90" textLength="16.1" lengthAdjust="spacingAndGlyphs">RA</text>
<line x1="624" y1="1127" x2="624" y2="1167.5" stroke="#ff0000" stroke-width="2.5"/>
<line x1="633" y1="1155.5" x2="619" y2="1142" stroke="#ff0000" stroke-width="2.5"/>
<path d="M614,1137.3 L617.4,1147 L623.5,1141 Z" fill="#ff0000"/>
<text transform="translate(637.9,1145.6) rotate(-90)" font-size="14.94" font-weight="bold" fill="#ff0000" stroke="#ff0000" stroke-width="0.90" textLength="16.1" lengthAdjust="spacingAndGlyphs">RA</text>
<line x1="777" y1="1294" x2="777" y2="1334.5" stroke="#ff0000" stroke-width="2.5"/>
<line x1="786" y1="1322.5" x2="772" y2="1309" stroke="#ff0000" stroke-width="2.5"/>
<path d="M767,1304.3 L770.4,1314 L776.5,1308 Z" fill="#ff0000"/>
<text transform="translate(790.9,1312.6) rotate(-90)" font-size="14.94" font-weight="bold" fill="#ff0000" stroke="#ff0000" stroke-width="0.90" textLength="16.1" lengthAdjust="spacingAndGlyphs">RA</text>
<circle cx="86.2" cy="496.1" r="10.2" fill="#e4e4f0" stroke="#22dd22" stroke-width="2.2"/>
<rect x="78.2" y="492.3" width="17.7" height="8.2" fill="#000"/>
<rect x="81.5" y="494" width="1.4" height="4.5" fill="#fff"/>
<rect x="84.5" y="494" width="1.4" height="4.5" fill="#fff"/>
<rect x="87.5" y="494" width="1.4" height="4.5" fill="#fff"/>
<rect x="90.5" y="494" width="1.4" height="4.5" fill="#fff"/>
<text transform="translate(92.0,482.5) rotate(-90)" font-size="17.88" font-weight="bold" fill="#000" stroke="#000" stroke-width="0.63" textLength="24.2" lengthAdjust="spacingAndGlyphs">E-D</text>
<g fill="none" stroke="#000" stroke-width="2">
<path d="M341,1294.6 L496,1294.6 M342.2,1294 L342.2,1466 M495.6,1294 L495.6,1543 M458.2,1294.5 L458.2,1338 M459.5,1391 L459.5,1418 M373.5,1342 L373.5,1392.5 L399.5,1392.5 L399.5,1422 L496,1422"/>
</g>
<rect x="375" y="1342" width="83" height="46" fill="#90ec90"/>
<rect x="389" y="1351" width="27.5" height="27" fill="#88e488" stroke="#000" stroke-width="1.8"/>
<path d="M396.5,1354 L396.5,1361.5 L403,1361.5 L403,1367.5 L409.5,1367.5 L409.5,1375 M393,1374 L396,1377 M406,1353.5 L406,1357 L413,1357 L413,1353.5 M409.5,1354 L409.5,1357" fill="none" stroke="#000" stroke-width="1.7"/>
<path d="M400.3,1342 V1351 M400.3,1378 V1387.5M404.5,1342 V1351 M404.5,1378 V1387.5M408.7,1342 V1351 M408.7,1378 V1387.5M412.9,1342 V1351 M412.9,1378 V1387.5M417.1,1342 V1387.5M421.3,1342 V1387.5M425.5,1342 V1387.5M429.7,1342 V1387.5M432.5,1342 V1388 M389,1351 H432.5 M389,1378 H432.5 M416.5,1363 H432.5 M416.5,1366.5 H432.5 M375,1388 H433" fill="none" stroke="#000" stroke-width="1.3"/>
<rect x="423" y="1351" width="7.5" height="3.3" fill="#000"/>
<rect x="402.5" y="1391.5" width="30" height="25.5" fill="#ff0000" stroke="#000" stroke-width="1.6"/>
<path d="M403,1392 L432,1416.5 M432,1392 L403,1416.5" stroke="#000" stroke-width="0.9"/>
<text transform="translate(411.5,1409.5) rotate(-90)" font-size="10.06" font-weight="bold" fill="#fff" stroke="#fff" stroke-width="0.35" textLength="9.9" lengthAdjust="spacingAndGlyphs">2</text>
<text transform="translate(430.5,1409.5) rotate(-90)" font-size="10.06" font-weight="bold" fill="#fff" stroke="#fff" stroke-width="0.35" textLength="9.9" lengthAdjust="spacingAndGlyphs">E</text>
<g fill="none" stroke="#ee8412" stroke-width="4.4">
<path d="M339.2,1466 L339.2,1291.6 L498.8,1291.6 L498.8,1544.5"/>
<path d="M341,1339.4 L459.6,1339.4 L459.6,1389.8 L435.1,1389.8 L435.1,1418.6 M399,1418.6 L498.8,1418.6"/>
</g>
<path d="M401.2,1390 L401.2,1418.6 M399,1391 L436,1391" fill="none" stroke="#ee8412" stroke-width="3.3"/>
<rect x="434" y="1342.5" width="12" height="12.5" fill="#ee8412" stroke="#000" stroke-width="1.6"/>
<circle cx="439.8" cy="1348.6" r="3.6" fill="#000"/>
<rect x="441.4" y="1325" width="12.200000000000045" height="15" fill="#ff0000"/>
<rect x="443.59999999999997" y="1327.2" width="7.800000000000045" height="10.6" fill="#f4f4f4"/>
<rect x="444.7" y="1329" width="5.600000000000046" height="6.8" fill="#555"/>
<rect x="441.2" y="1378.4" width="11.5" height="15.699999999999818" fill="#ff0000"/>
<rect x="443.4" y="1380.6000000000001" width="7.1" height="11.299999999999818" fill="#f4f4f4"/>
<rect x="444.5" y="1382.4" width="4.9" height="7.1" fill="#555"/>
<rect x="373" y="1362" width="14.3" height="24.6" fill="#d42020"/>
<rect x="375.3" y="1364.3" width="9.7" height="20" fill="#f4f4f4"/>
<path d="M377,1369 L380,1366 L383,1369 L381,1369 L381,1372.5 L379,1372.5 L379,1369 Z" fill="#ff0000"/>
<rect x="376.5" y="1376" width="7.3" height="7" fill="#555"/>
<rect x="345.9" y="1316.5" width="17.600000000000023" height="17.700000000000045" fill="#ffff20" stroke="#000" stroke-width="1.6"/>
<path d="M349.2,1323.85 L353.2,1320.35 L354.2,1325.85 L357.7,1322.35 L359.7,1329.85 M359.7,1329.85 L357.2,1328.35" fill="none" stroke="#000" stroke-width="1.9"/>
<rect x="463" y="1340" width="15.199999999999989" height="15.5" fill="#ffff20" stroke="#ff0000" stroke-width="2"/>
<path d="M465.1,1346.25 L469.1,1342.75 L470.1,1348.25 L473.6,1344.75 L475.6,1352.25 M475.6,1352.25 L473.1,1350.75" fill="none" stroke="#000" stroke-width="1.9"/>
<rect x="477.3" y="1395.8" width="15.899999999999977" height="15.700000000000045" fill="#ffff20" stroke="#000" stroke-width="1.6"/>
<path d="M479.75,1402.15 L483.75,1398.65 L484.75,1404.15 L488.25,1400.65 L490.25,1408.15 M490.25,1408.15 L487.75,1406.65" fill="none" stroke="#000" stroke-width="1.9"/>
<path d="M481,1342.5 L495,1342.5 L495,1371 L492.5,1383 L486.5,1383 L481,1371 Z" fill="#fff" stroke="#ff0000" stroke-width="2"/>
<path d="M481.5,1371 L494.5,1371" stroke="#ff0000" stroke-width="1.5"/>
<rect x="483.5" y="1344.5" width="9" height="25" fill="#222"/>
<text transform="translate(491.5,1368.0) rotate(-90)" font-size="10.47" font-weight="bold" fill="#fff" stroke="#fff" stroke-width="0.37" textLength="21.4" lengthAdjust="spacingAndGlyphs">UZ30</text>
<rect x="427" y="1323" width="6.3" height="13.8" fill="#fff" stroke="#000" stroke-width="1.5"/>
<circle cx="380" cy="1326.4" r="6.0" fill="#8888e8" stroke="#000" stroke-width="2.0"/>
<path d="M375.7,1322.1 L384.3,1330.7 M375.7,1330.7 L384.3,1322.1" stroke="#000" stroke-width="2"/>
<circle cx="430" cy="1305" r="6.0" fill="#8888e8" stroke="#000" stroke-width="2.0"/>
<path d="M425.7,1300.7 L434.3,1309.3 M425.7,1309.3 L434.3,1300.7" stroke="#000" stroke-width="2"/>
<circle cx="475.7" cy="1325" r="6.0" fill="#e8a0b0" stroke="#000" stroke-width="2.0"/>
<path d="M471.4,1320.7 L480.0,1329.3 M471.4,1329.3 L480.0,1320.7" stroke="#000" stroke-width="2"/>
<circle cx="450.9" cy="1366" r="6.0" fill="#2848c8" stroke="#000" stroke-width="2.0"/>
<path d="M446.6,1361.7 L455.2,1370.3 M446.6,1370.3 L455.2,1361.7" stroke="#000" stroke-width="2"/>
<circle cx="480.4" cy="1385.8" r="6.0" fill="#e8a0b0" stroke="#000" stroke-width="2.0"/>
<path d="M476.1,1381.5 L484.7,1390.1 M476.1,1390.1 L484.7,1381.5" stroke="#000" stroke-width="2"/>
<circle cx="446.7" cy="1402.9" r="6.0" fill="#a0e8a0" stroke="#000" stroke-width="2.0"/>
<path d="M442.4,1398.6 L451.0,1407.2 M442.4,1407.2 L451.0,1398.6" stroke="#000" stroke-width="2"/>
<path d="M365,1346.5 L376,1331 M444,1280 L440.5,1347 M456,1280 L455,1343 L453,1347 L452.3,1359.5 M447,1409 L450,1419 M452,1372 L446,1378" fill="none" stroke="#000" stroke-width="1.5"/>
<path d="M463.3,1370 C466,1362 470,1359 473.5,1359" fill="none" stroke="#000" stroke-width="1.3"/>
<text transform="translate(366.3,1393.2) rotate(-90)" font-size="12.29" font-weight="bold" fill="#000" stroke="#000" stroke-width="0.43" textLength="44.9" lengthAdjust="spacingAndGlyphs">12062/2E</text>
<text transform="translate(421.4,1332.7) rotate(-90)" font-size="12.29" font-weight="bold" fill="#000" stroke="#000" stroke-width="0.43" textLength="36.8" lengthAdjust="spacingAndGlyphs">12062/1</text>
<text transform="translate(470.0,1337.7) rotate(-90)" font-size="13.27" font-weight="bold" fill="#000" stroke="#000" stroke-width="0.46" textLength="26.9" lengthAdjust="spacingAndGlyphs">BMA</text>
<text transform="translate(494.3,1338.4) rotate(-90)" font-size="11.87" font-weight="bold" fill="#000" stroke="#000" stroke-width="0.42" textLength="44.0" lengthAdjust="spacingAndGlyphs">12061/2E</text>
<text transform="translate(472.6,1407.2) rotate(-90)" font-size="12.85" font-weight="bold" fill="#000" stroke="#000" stroke-width="0.45" textLength="36.3" lengthAdjust="spacingAndGlyphs">12061/1</text>
<text transform="translate(460.2,1473.6) rotate(-90)" font-size="13.97" font-weight="bold" fill="#000" stroke="#000" stroke-width="0.49" textLength="46.7" lengthAdjust="spacingAndGlyphs">12063/1E</text>
<text transform="translate(447.2,1273.7) rotate(-90)" font-size="12.57" font-weight="bold" fill="#000" stroke="#000" stroke-width="0.44" textLength="41.9" lengthAdjust="spacingAndGlyphs">12055/2E</text>
<text transform="translate(461.5,1273.7) rotate(-90)" font-size="13.27" font-weight="bold" fill="#000" stroke="#000" stroke-width="0.46" textLength="45.2" lengthAdjust="spacingAndGlyphs">12054/2E</text>
</svg>
</body></html>
